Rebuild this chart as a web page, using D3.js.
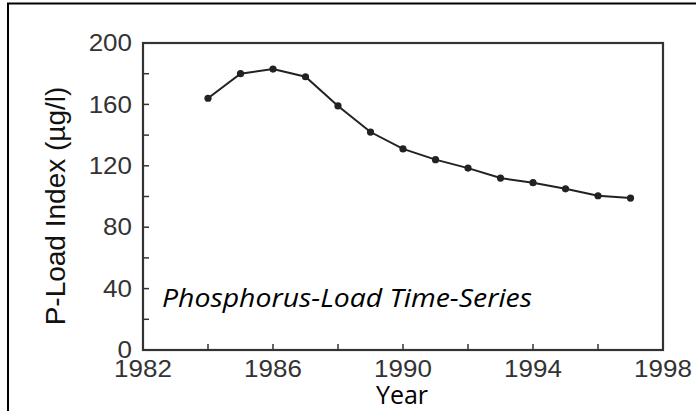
<!DOCTYPE html>
<html lang="en">
<head>
    <meta charset="UTF-8">
    <title>Phosphorus-Load Time-Series</title>
    <style>
        body { margin: 0; background: #fff; }
        svg { display: block; }
    </style>
</head>
<body>
    <script src="https://d3js.org/d3.v7.min.js"></script>
    <div id="chart"></div>

    <script>
        const years = [1984, 1985, 1986, 1987, 1988, 1989, 1990, 1991, 1992, 1993, 1994, 1995, 1996, 1997];
        const pLoad = [164, 180, 183, 178, 159, 142, 131, 124, 118.5, 112, 109, 105, 100.5, 99];
        const xTickLabels = [1982, 1986, 1990, 1994, 1998];
        const yTickLabels = [0, 40, 80, 120, 160, 200];

        const width = 696;
        const height = 411;
        const margin = { top: 43, right: 33, bottom: 61, left: 143 };
        const innerW = width - margin.left - margin.right;
        const innerH = height - margin.top - margin.bottom;

        const svg = d3.select("#chart").append("svg")
            .attr("width", width)
            .attr("height", height);

        // outer frame of the figure
        svg.append("rect")
            .attr("x", 8)
            .attr("y", 3.5)
            .attr("width", 700)
            .attr("height", 420)
            .attr("fill", "none")
            .attr("stroke", "#000")
            .attr("stroke-width", 2);

        const g = svg.append("g")
            .attr("transform", "translate(" + margin.left + "," + margin.top + ")");

        const x = d3.scaleLinear().domain([1982, 1998]).range([0, innerW]);
        const y = d3.scaleLinear().domain([0, 200]).range([innerH, 0]);

        // ticks, drawn inward
        const xTicks = d3.range(1984, 1998, 2);
        const yTicks = d3.range(20, 200, 20);

        g.selectAll(".xtick")
            .data(xTicks)
            .enter().append("line")
            .attr("x1", d => x(d)).attr("x2", d => x(d))
            .attr("y1", innerH).attr("y2", innerH - 6)
            .attr("stroke", "#333").attr("stroke-width", 1.5);

        g.selectAll(".ytick")
            .data(yTicks)
            .enter().append("line")
            .attr("x1", 0).attr("x2", 6)
            .attr("y1", d => y(d)).attr("y2", d => y(d))
            .attr("stroke", "#333").attr("stroke-width", 1.5);

        // plot box
        g.append("rect")
            .attr("x", 0).attr("y", 0)
            .attr("width", innerW).attr("height", innerH)
            .attr("fill", "none")
            .attr("stroke", "#333")
            .attr("stroke-width", 2.2);

        // tick labels (digits in the original are a bit wide, so stretch them)
        g.selectAll(".xlabel")
            .data(xTickLabels)
            .enter().append("text")
            .attr("transform", d => "translate(" + x(d) + "," + (innerH + 27) + ") scale(1.13,1)")
            .attr("text-anchor", "middle")
            .style("font-family", "'Liberation Sans', Arial, sans-serif")
            .style("font-size", "23px")
            .style("fill", "#333")
            .text(d => d);

        g.selectAll(".ylabel")
            .data(yTickLabels)
            .enter().append("text")
            .attr("transform", d => "translate(-11," + y(d) + ") scale(1.13,1)")
            .attr("dy", "0.36em")
            .attr("text-anchor", "end")
            .style("font-family", "'Liberation Sans', Arial, sans-serif")
            .style("font-size", "23px")
            .style("fill", "#333")
            .text(d => d);

        // line and markers
        const data = years.map((yr, i) => ({ year: yr, value: pLoad[i] }));

        const line = d3.line()
            .x(d => x(d.year))
            .y(d => y(d.value));

        g.append("path")
            .datum(data)
            .attr("fill", "none")
            .attr("stroke", "#222")
            .attr("stroke-width", 2)
            .attr("d", line);

        g.selectAll(".dot")
            .data(data)
            .enter().append("circle")
            .attr("cx", d => x(d.year))
            .attr("cy", d => y(d.value))
            .attr("r", 3.6)
            .attr("fill", "#222");

        // axis titles
        svg.append("text")
            .attr("transform", "translate(65,206) rotate(-90)")
            .attr("text-anchor", "middle")
            .style("font-family", "'Liberation Sans', Arial, sans-serif")
            .style("font-size", "28px")
            .style("fill", "#111")
            .text("P-Load Index (µg/l)");

        svg.append("text")
            .attr("x", margin.left + x(1990) - 1)
            .attr("y", 404)
            .attr("text-anchor", "middle")
            .style("font-family", "'Open Sans', sans-serif")
            .style("font-size", "25px")
            .style("fill", "#000")
            .text("Year");

        // annotation
        svg.append("text")
            .attr("x", 162)
            .attr("y", 307)
            .attr("textLength", 370)
            .attr("lengthAdjust", "spacingAndGlyphs")
            .style("font-family", "'Open Sans', sans-serif")
            .style("font-style", "italic")
            .style("font-size", "25px")
            .style("fill", "#000")
            .text("Phosphorus-Load Time-Series");
    </script>
</body>
</html>
